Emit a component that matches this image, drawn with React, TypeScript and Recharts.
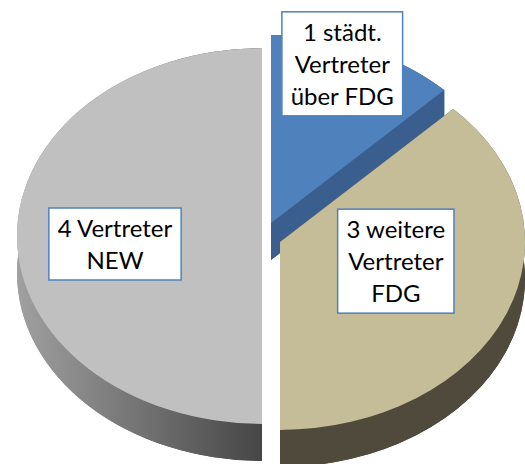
import React from "react";
import { PieChart, Pie } from "recharts";

// seats per group
const names = ["1 städt. Vertreter über FDG", "3 weitere Vertreter FDG", "4 Vertreter NEW"];
const values = [1, 3, 4];
const labelLines = [
  ["1 städt.", "Vertreter", "über FDG"],
  ["3 weitere", "Vertreter", "FDG"],
  ["4 Vertreter", "NEW"],
];

const TOP = ["#4F81BD", "#C4BD97", "#C0C0C0"];
const SIDE = ["#3A5F8E", "#4F4A3B", "url(#graySide)"];
const EXPLODE = [[6, -13], [15, 6], [-3, 0]];
const LABEL_NUDGE = [[15, -55], [-20, -24], [0, 8]];
const RATIO = 0.767;
const DEPTH = 37;
const FONT = "Lato, 'Liberation Sans', sans-serif";
const FONT_SIZE = 24;

const data = names.map((name, i) => ({ name, value: values[i], idx: i }));

let ctx: CanvasRenderingContext2D | null = null;
const measure = (s: string) => {
  if (!ctx) ctx = document.createElement("canvas").getContext("2d");
  if (!ctx) return s.length * 11;
  ctx.font = `${FONT_SIZE}px Lato, 'Liberation Sans', sans-serif`;
  return ctx.measureText(s).width;
};

const rad = (a: number) => (a * Math.PI) / 180;

const Slice3D = (props: any) => {
  const { cx, cy, outerRadius, startAngle, endAngle } = props;
  const i = props.payload?.idx ?? props.idx ?? 0;
  const ox = cx + EXPLODE[i][0];
  const oy = cy + EXPLODE[i][1];
  const rx = outerRadius;
  const ry = outerRadius * RATIO;
  const pt = (a: number, dy = 0) => `${ox + rx * Math.cos(rad(a))},${oy - ry * Math.sin(rad(a)) + dy}`;
  const large = Math.abs(startAngle - endAngle) > 180 ? 1 : 0;
  const sweep = startAngle > endAngle ? 1 : 0;
  const sector = (dy: number) =>
    `M${ox},${oy + dy} L${pt(startAngle, dy)} A${rx},${ry} 0 ${large} ${sweep} ${pt(endAngle, dy)} Z`;
  const band =
    `M${pt(startAngle)} A${rx},${ry} 0 ${large} ${sweep} ${pt(endAngle)} ` +
    `L${pt(endAngle, DEPTH)} A${rx},${ry} 0 ${large} ${1 - sweep} ${pt(startAngle, DEPTH)} Z`;
  const face = (a: number) => `M${ox},${oy} L${pt(a)} L${pt(a, DEPTH)} L${ox},${oy + DEPTH} Z`;
  const side = SIDE[i];
  return (
    <g>
      {i === 2 && (
        <defs>
          <linearGradient id="graySide" gradientUnits="userSpaceOnUse" x1={ox - rx} y1={0} x2={ox} y2={0}>
            <stop offset="0%" stopColor="#A0A0A0" />
            <stop offset="100%" stopColor="#464646" />
          </linearGradient>
        </defs>
      )}
      <path d={sector(DEPTH)} fill={side} />
      <path d={band} fill={side} />
      <path d={face(startAngle)} fill={side} />
      <path d={face(endAngle)} fill={side} />
      <path d={sector(0)} fill={TOP[i]} />
    </g>
  );
};

const renderLabel = (p: any) => {
  const i = p.payload?.idx ?? p.index ?? 0;
  const rx = p.outerRadius;
  const ry = rx * RATIO;
  const lx = p.cx + EXPLODE[i][0] + 0.6 * rx * Math.cos(rad(p.midAngle)) + LABEL_NUDGE[i][0];
  const ly = p.cy + EXPLODE[i][1] - 0.6 * ry * Math.sin(rad(p.midAngle)) + LABEL_NUDGE[i][1];
  const lines = labelLines[i];
  const w = Math.max(...lines.map(measure)) + 17;
  const h = lines.length * 32 + 8;
  const top = ly - h / 2;
  return (
    <g key={`lbl-${i}`}>
      <rect x={lx - w / 2} y={top} width={w} height={h} fill="#FFFFFF" stroke="#4F81BD" strokeWidth={1.5} />
      <text textAnchor="middle" fontFamily={FONT} fontSize={FONT_SIZE} fill="#000000">
        {lines.map((l, k) => (
          <tspan key={k} x={lx} y={top + 29 + k * 32}>
            {l}
          </tspan>
        ))}
      </text>
    </g>
  );
};

export default function App() {
  const pieProps: any = {
    shape: Slice3D,
    inactiveShape: Slice3D,
    activeShape: Slice3D,
  };
  return (
    <div style={{ position: "absolute", left: 0, top: 0, background: "#FFFFFF" }}>
      <PieChart width={525} height={464} margin={{ top: 0, right: 0, bottom: 0, left: 0 }}>
        <Pie
          data={data}
          dataKey="value"
          nameKey="name"
          cx={265}
          cy={236}
          outerRadius={245}
          startAngle={90}
          endAngle={-270}
          stroke="none"
          isAnimationActive={false}
          labelLine={false}
          label={renderLabel}
          {...pieProps}
        />
      </PieChart>
    </div>
  );
}
